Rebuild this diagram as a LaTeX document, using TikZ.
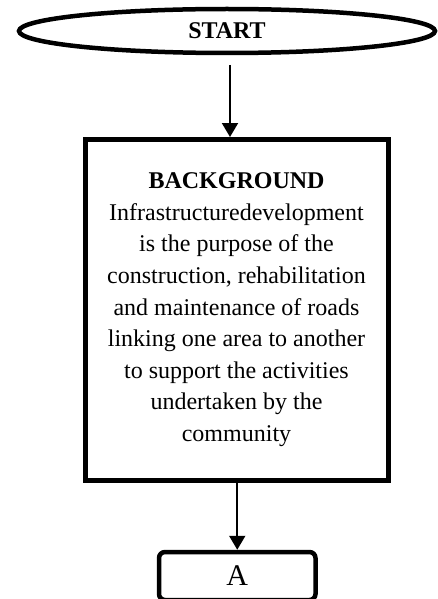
\documentclass[tikz,border=0pt]{standalone}
\usepackage{fontspec}
\setmainfont{Liberation Serif}
\usetikzlibrary{shapes.geometric,arrows.meta}
\begin{document}
\begin{tikzpicture}[x=1pt,y=-1pt,
  terminal/.style={draw,line width=4.5pt,ellipse,inner sep=0pt,
    minimum width=416pt,minimum height=44pt,
    font=\fontsize{24}{28}\selectfont\bfseries},
  processbox/.style={draw,line width=5pt,rectangle,inner sep=0pt,
    minimum width=303pt,minimum height=340.5pt,align=center,
    font=\fontsize{24}{31.6}\selectfont},
  connector/.style={draw,line width=4.5pt,rectangle,rounded corners=6pt,
    inner sep=0pt,minimum width=156.5pt,minimum height=48pt,
    font=\fontsize{30}{34}\selectfont},
  flow/.style={line width=2pt,-{Triangle[length=14pt,width=16pt]}}]
  \useasboundingbox (0,0) rectangle (438,599);

  \node[terminal] (start) at (227,31) {START};
  \node[processbox] (bg) at (236.5,309.75)
    {\textbf{BACKGROUND}\\
     Infrastructuredevelopment\\
     is the purpose of the\\
     construction, rehabilitation\\
     and maintenance of roads\\
     linking one area to another\\
     to support the activities\\
     undertaken by the\\
     community};
  \node[connector] (a) at (237.25,576) {A};

  \coordinate (s1) at (230,65);
  \draw[flow] (s1) -- (s1 |- bg.north);
  \draw[flow] (bg.south -| a.north) -- (a.north);
\end{tikzpicture}
\end{document}
